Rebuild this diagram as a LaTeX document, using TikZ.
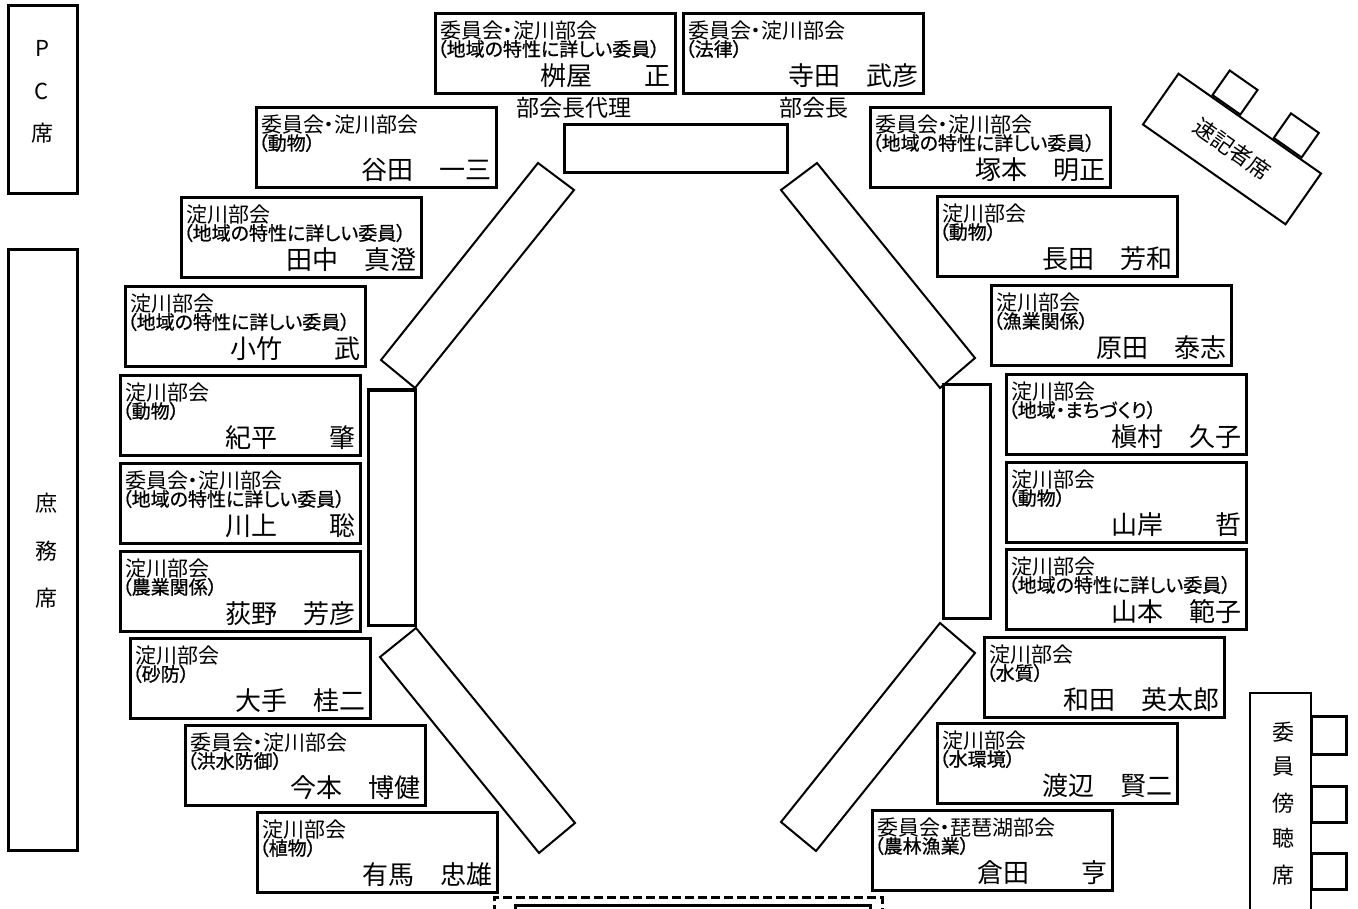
\documentclass[tikz,border=0pt]{standalone}
\usepackage{fontspec}
\newfontfamily\jp[RawFeature=+palt]{Noto Sans CJK JP}
\newfontfamily\jpb[RawFeature=+palt,FakeBold=0.8]{Noto Sans CJK JP}
\newfontfamily\jpn{Noto Sans CJK JP}
\usepackage{tikz}
\usetikzlibrary{calc}
\usetikzlibrary{positioning}

\tikzset{
  memberbox/.style={draw, line width=3pt, anchor=north west, minimum width=240pt, minimum height=80pt, inner sep=0pt},
  grouptext/.style={anchor=west, inner sep=0pt, font=\jp\fontsize{21}{21}\selectfont},
  fieldtext/.style={anchor=west, inner sep=0pt, font=\jpb\fontsize{19}{19}\selectfont},
  nametext/.style={anchor=east, inner sep=0pt, font=\jpn\fontsize{26}{26}\selectfont},
  seatbox/.style={draw, line width=3pt, inner sep=0pt},
  seatlabel/.style={inner sep=0pt, font=\jpn\fontsize{22}{22}\selectfont},
  deskbox/.style={draw, line width=2pt, inner sep=0pt},
  desk/.style={line width=2pt, line join=miter},
  thickdesk/.style={line width=3pt}
}

\newcommand{\committee}[6]{%
  \node[memberbox] (#1) at (#2,#3) {};
  \node[grouptext] (#1-a) at ([xshift=6pt,yshift=-19pt]#1.north west) {#4};
  \node[fieldtext] (#1-b) at ([xshift=3pt,yshift=-37pt]#1.north west) {#5};
  \node[nametext] (#1-c) at ([xshift=-6pt,yshift=19pt]#1.south east) {#6};
}

\begin{document}
\begin{tikzpicture}[x=1pt,y=-1pt]
\useasboundingbox (0,0) rectangle (1358,909);

% side seats
\node[seatbox, minimum width=69pt, minimum height=188pt] (pc) at (42.5,100) {};
\node[seatlabel] (pc-1) at (42,48) {P};
\node[seatlabel] (pc-2) at (42,91) {C};
\node[seatlabel] (pc-3) at (42,133) {席};
\node[seatbox, minimum width=69pt, minimum height=600pt] (shomu) at (42.5,550) {};
\node[seatlabel] (shomu-1) at (46,503) {庶};
\node[seatlabel] (shomu-2) at (46,551) {務};
\node[seatlabel] (shomu-3) at (46,598) {席};

% tables
\draw[thickdesk] (564,125) rectangle (787,173);
\draw[thickdesk] (368,390) rectangle (415,625);
\draw[thickdesk] (943,385) rectangle (990,618);
\draw[desk] (538,163) -- (574,190) -- (415,388) -- (381,360) -- cycle;
\draw[desk] (416,628) -- (380,657) -- (539,853) -- (575,823) -- cycle;
\draw[desk] (817,163) -- (781,190) -- (940,388) -- (975,358) -- cycle;
\draw[desk] (940,623) -- (975,653) -- (816,851) -- (781,822) -- cycle;

\node[seatlabel, font=\jpn\fontsize{23}{23}\selectfont] (dairi) at (574,108) {部会長代理};
\node[seatlabel, font=\jpn\fontsize{23}{23}\selectfont] (bukaicho) at (814,108) {部会長};

% members
\committee{masuya}{434}{12}{委員会・淀川部会}{（地域の特性に詳しい委員）}{桝屋　　正}
\committee{terada}{682}{12}{委員会・淀川部会}{（法律）}{寺田　武彦}
\committee{tanida}{255}{106}{委員会・淀川部会}{（動物）}{谷田　一三}
\committee{tanaka}{180}{196}{淀川部会}{（地域の特性に詳しい委員）}{田中　真澄}
\committee{kotake}{124}{285}{淀川部会}{（地域の特性に詳しい委員）}{小竹　　武}
\committee{kihira}{119}{374}{淀川部会}{（動物）}{紀平　　肇}
\committee{kawakami}{119}{462}{委員会・淀川部会}{（地域の特性に詳しい委員）}{川上　　聡}
\committee{ogino}{119}{550}{淀川部会}{（農業関係）}{荻野　芳彦}
\committee{ote}{129}{637}{淀川部会}{（砂防）}{大手　桂二}
\committee{imamoto}{184}{724}{委員会・淀川部会}{（洪水防御）}{今本　博健}
\committee{arima}{256}{811}{淀川部会}{（植物）}{有馬　忠雄}
\committee{tsukamoto}{869}{106}{委員会・淀川部会}{（地域の特性に詳しい委員）}{塚本　明正}
\committee{osada}{936}{195}{淀川部会}{（動物）}{長田　芳和}
\committee{harada}{990}{284}{淀川部会}{（漁業関係）}{原田　泰志}
\committee{makimura}{1005}{373}{淀川部会}{（地域・まちづくり）}{槇村　久子}
\committee{yamagishi}{1005}{461}{淀川部会}{（動物）}{山岸　　哲}
\committee{yamamoto}{1005}{548}{淀川部会}{（地域の特性に詳しい委員）}{山本　範子}
\committee{wada}{983}{636}{淀川部会}{（水質）}{和田　英太郎}
\committee{watanabe}{936}{722}{淀川部会}{（水環境）}{渡辺　賢二}
\committee{kurata}{871}{809}{委員会・琵琶湖部会}{（農林漁業）}{倉田　　亨}

% stenographer
\node[deskbox, rotate=-35, minimum width=174pt, minimum height=62pt, font=\jpn\fontsize{22}{22}\selectfont] (sokki) at (1232,149) {速記者席};
\node[deskbox, rotate=-35, anchor=south, minimum width=34pt, minimum height=30pt] (sokki-1) at ($(sokki.north west)!0.33!(sokki.north east)$) {};
\node[deskbox, rotate=-35, anchor=south, minimum width=34pt, minimum height=30pt] (sokki-2) at ($(sokki.north west)!0.755!(sokki.north east)$) {};

% observers
\node[seatbox, line width=2.5pt, minimum width=61pt, minimum height=240pt] (bocho) at (1280.5,813) {};
\node[seatbox, minimum width=35pt, minimum height=38pt] (bocho-1) at (1328.5,735) {};
\node[seatbox, minimum width=35pt, minimum height=36pt] (bocho-2) at (1328.5,804) {};
\node[seatbox, minimum width=35pt, minimum height=36pt] (bocho-3) at (1328.5,871) {};
\node[seatlabel] (bocho-a) at (1283,732) {委};
\node[seatlabel] (bocho-b) at (1283,767) {員};
\node[seatlabel] (bocho-c) at (1283,803) {傍};
\node[seatlabel] (bocho-d) at (1283,838) {聴};
\node[seatlabel] (bocho-e) at (1283,875) {席};

% front table
\draw[line width=3pt, dash pattern=on 9pt off 4pt] (494,940) -- (494,897) -- (882,897) -- (882,940);
\draw[thickdesk] (515,940) -- (515,905) -- (870,905) -- (870,940);
\end{tikzpicture}
\end{document}
